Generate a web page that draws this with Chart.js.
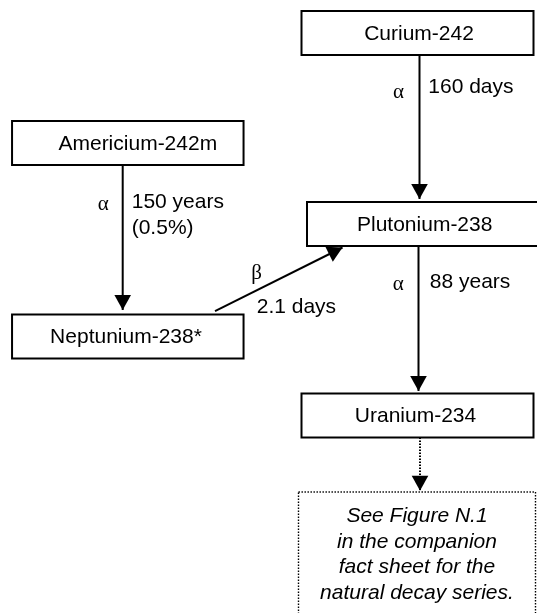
<!DOCTYPE html>
<html>
<head>
<meta charset="utf-8">
<script src="https://cdn.jsdelivr.net/npm/chart.js@4/dist/chart.umd.min.js"></script>
<style>
  html, body { margin: 0; padding: 0; background: #ffffff; }
  #wrap { width: 537px; height: 613px; overflow: hidden; }
</style>
</head>
<body>
<div id="wrap"><canvas id="c" width="537" height="613"></canvas></div>
<script>
// ---- Diagram content (nodes of the decay chain) ----
const nodeNames = ['Curium-242', 'Americium-242m', 'Plutonium-238', 'Neptunium-238*', 'Uranium-234'];
const nodeX = [417.5, 127.8, 423, 127.8, 417.5];
const nodeY = [33, 143, 224, 336.5, 415.5];

const noteLines = ['See Figure N.1', 'in the companion', 'fact sheet for the', 'natural decay series.'];

// ---- Decay transitions (edges); target 5 = note box ----
const edgeFrom = [0, 1, 3, 2, 4];
const edgeTo = [2, 3, 2, 4, 5];
const edgeMode = ['α', 'α', 'β', 'α', ''];
const edgeHalfLife = [['160 days'], ['150 years', '(0.5%)'], ['2.1 days'], ['88 years'], []];

// ---- Layout / styling (not data) ----
const layout = {
  boxW: [232, 231.5, 232, 231.5, 232],
  boxH: 44,
  textDx: [1.5, 10, 1.7, -1.8, -2],
  note: { left: 298.5, right: 535.5, top: 492, bottom: 640, textX: 417, textY: [516, 542, 567, 593] },
  startX: [419.5, 122.7, 215, 418.5, 420],
  endX: [419.5, 122.7, 342.5, 418.5, 420],
  startDy: [0, 0, 3.3, 0, 0],
  endGap: [3, 4.5, -1.5, 2.5, 1.3],
  modePos: [[398.5, 92], [103.3, 204], [256.7, 273], [398.3, 284], null],
  lifePos: [[428.3, 87], [131.7, 202.7], [256.7, 307.7], [429.8, 282], null],
  lineH: 25.6,
  dotted: [false, false, false, false, true]
};

function edgePoints(i) {
  const s = edgeFrom[i], t = edgeTo[i];
  const sBottom = nodeY[s] + layout.boxH / 2, sTop = nodeY[s] - layout.boxH / 2;
  let tTop, tBottom;
  if (t === 5) { tTop = layout.note.top; tBottom = layout.note.bottom; }
  else { tTop = nodeY[t] - layout.boxH / 2; tBottom = nodeY[t] + layout.boxH / 2; }
  if (t === 5 || nodeY[t] > nodeY[s]) {
    return [{ x: layout.startX[i], y: sBottom }, { x: layout.endX[i], y: tTop - layout.endGap[i] }];
  }
  return [{ x: layout.startX[i], y: sTop - layout.startDy[i] }, { x: layout.endX[i], y: tBottom + layout.endGap[i] * -1 }];
}

const datasets = edgeFrom.map((f, i) => ({
  label: edgeMode[i] + ' ' + nodeNames[f],
  data: edgePoints(i),
  showLine: true,
  borderColor: '#000',
  borderWidth: 2,
  borderDash: layout.dotted[i] ? [1.5, 1.5] : [],
  pointRadius: 0,
  pointHoverRadius: 0,
  fill: false
}));

const diagramPlugin = {
  id: 'diagram',
  beforeDatasetsDraw(chart) {
    const ctx = chart.ctx, xs = chart.scales.x, ys = chart.scales.y;
    ctx.save();
    const n = layout.note;
    ctx.strokeStyle = '#000';
    ctx.lineWidth = 1.4;
    ctx.setLineDash([1.4, 1.6]);
    const nl = xs.getPixelForValue(n.left), nr = xs.getPixelForValue(n.right);
    const nt = ys.getPixelForValue(n.top), nb = ys.getPixelForValue(n.bottom);
    ctx.strokeRect(nl, nt, nr - nl, nb - nt);
    ctx.setLineDash([]);
    ctx.fillStyle = '#000';
    ctx.font = 'italic 21px "Liberation Sans", Arial, sans-serif';
    ctx.textAlign = 'center';
    ctx.textBaseline = 'middle';
    noteLines.forEach((ln, k) => {
      ctx.fillText(ln, xs.getPixelForValue(n.textX), ys.getPixelForValue(n.textY[k]));
    });
    ctx.restore();
  },
  afterDatasetsDraw(chart) {
    const ctx = chart.ctx, xs = chart.scales.x, ys = chart.scales.y;
    ctx.save();
    nodeNames.forEach((name, i) => {
      const w = layout.boxW[i], h = layout.boxH;
      const l = xs.getPixelForValue(nodeX[i] - w / 2), r = xs.getPixelForValue(nodeX[i] + w / 2);
      const t = ys.getPixelForValue(nodeY[i] - h / 2), b = ys.getPixelForValue(nodeY[i] + h / 2);
      ctx.fillStyle = '#fff';
      ctx.fillRect(l, t, r - l, b - t);
      ctx.strokeStyle = '#000';
      ctx.lineWidth = 2;
      ctx.strokeRect(l, t, r - l, b - t);
      ctx.fillStyle = '#000';
      ctx.font = '21px "Liberation Sans", Arial, sans-serif';
      ctx.textAlign = 'center';
      ctx.textBaseline = 'middle';
      ctx.fillText(name, xs.getPixelForValue(nodeX[i] + layout.textDx[i]), ys.getPixelForValue(nodeY[i]) + 1);
    });
    chart.data.datasets.forEach((ds, i) => {
      const meta = chart.getDatasetMeta(i);
      const p0 = meta.data[0], p1 = meta.data[1];
      const ang = Math.atan2(p1.y - p0.y, p1.x - p0.x);
      const L = 15, W = 8.3;
      ctx.fillStyle = '#000';
      ctx.beginPath();
      ctx.moveTo(p1.x, p1.y);
      ctx.lineTo(p1.x - L * Math.cos(ang) + W * Math.sin(ang), p1.y - L * Math.sin(ang) - W * Math.cos(ang));
      ctx.lineTo(p1.x - L * Math.cos(ang) - W * Math.sin(ang), p1.y - L * Math.sin(ang) + W * Math.cos(ang));
      ctx.closePath();
      ctx.fill();
      if (layout.modePos[i]) {
        ctx.font = '21px "Liberation Serif", "Times New Roman", serif';
        ctx.textAlign = 'center';
        ctx.textBaseline = 'middle';
        ctx.fillText(edgeMode[i], xs.getPixelForValue(layout.modePos[i][0]), ys.getPixelForValue(layout.modePos[i][1]));
      }
      if (layout.lifePos[i]) {
        ctx.font = '21px "Liberation Sans", Arial, sans-serif';
        ctx.textAlign = 'left';
        ctx.textBaseline = 'middle';
        edgeHalfLife[i].forEach((ln, k) => {
          ctx.fillText(ln, xs.getPixelForValue(layout.lifePos[i][0]), ys.getPixelForValue(layout.lifePos[i][1] + k * layout.lineH));
        });
      }
    });
    ctx.restore();
  }
};

new Chart(document.getElementById('c'), {
  type: 'scatter',
  data: { datasets },
  options: {
    responsive: false,
    devicePixelRatio: 1,
    animation: false,
    layout: { padding: 0 },
    plugins: { legend: { display: false }, tooltip: { enabled: false } },
    scales: {
      x: { type: 'linear', min: 0, max: 537, display: false },
      y: { type: 'linear', min: 0, max: 613, reverse: true, display: false }
    }
  },
  plugins: [diagramPlugin]
});
</script>
</body>
</html>
